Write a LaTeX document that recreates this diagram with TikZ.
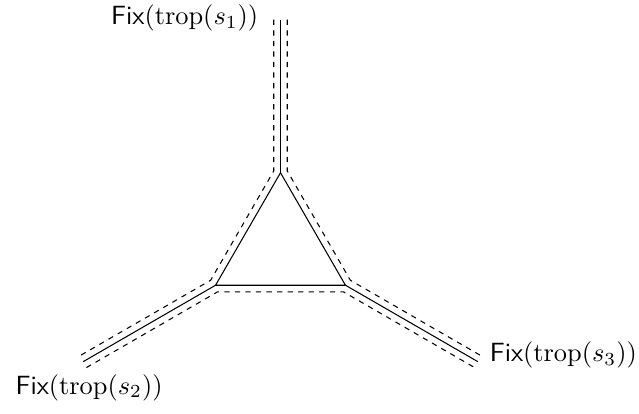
\documentclass[tikz,border=0pt]{standalone}
\usepackage{amsmath}
\usetikzlibrary{calc}

\begin{document}
\begin{tikzpicture}[
        fixline/.style={dash pattern=on 2pt off 2pt},
        fixlabel/.style={inner sep=2pt}
    ]
        \useasboundingbox (0,0) rectangle (8.52,5.51);

        % centre of the tropical line
        \coordinate (centre) at (3.74,2.207);

        % vertices of the triangle and ends of the rays
        \foreach \i/\angle in {1/90, 2/210, 3/330} {
            \coordinate (v\i) at ($(centre) + (\angle:1)$);
            \coordinate (e\i) at ($(v\i) + (\angle:2.04)$);
            \draw (v\i) -- (e\i);
        }
        \draw (v1) -- (v2) -- (v3) -- cycle;

        % fixed loci, offset from the solid lines
        \def\off{0.09}
        \def\offc{0.093}
        \draw[fixline] ($(e1)+(180:\off)$) -- ($(v1)+(165:\offc)$) -- ($(v2)+(135:\offc)$) -- ($(e2)+(120:\off)$);
        \draw[fixline] ($(e1)+(0:\off)$) -- ($(v1)+(15:\offc)$) -- ($(v3)+(45:\offc)$) -- ($(e3)+(60:\off)$);
        \draw[fixline] ($(e2)+(300:\off)$) -- ($(v2)+(285:\offc)$) -- ($(v3)+(255:\offc)$) -- ($(e3)+(240:\off)$);

        % labels
        \node [fixlabel, anchor=east] (fix1) at ([xshift=-0.22cm, yshift=0.02cm]e1) {\textsf{Fix}$(\operatorname{trop}(s_1))$};
        \node [fixlabel, anchor=north] (fix2) at ([xshift=0.08cm, yshift=-0.09cm]e2) {\textsf{Fix}$(\operatorname{trop}(s_2))$};
        \node [fixlabel, anchor=west] (fix3) at ([xshift=0.08cm, yshift=0.086cm]e3) {\textsf{Fix}$(\operatorname{trop}(s_3))$};

\end{tikzpicture}
\end{document}
